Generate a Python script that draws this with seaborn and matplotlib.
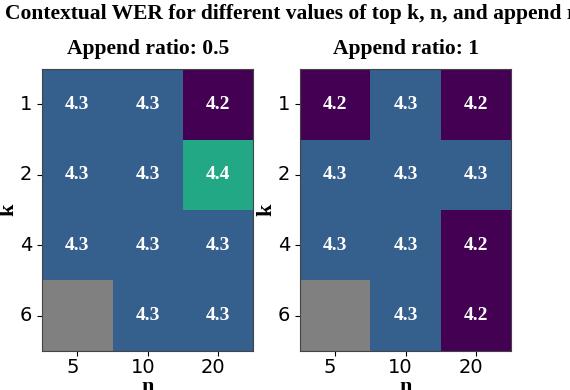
import matplotlib
matplotlib.use("Agg")
import matplotlib.pyplot as plt
import matplotlib.transforms as mtransforms
import numpy as np
import pandas as pd
import seaborn as sns

top_k = [1, 2, 4, 6]
n_values = [5, 10, 20]
append_ratios = ["0.5", "1"]

wer_ratio_05 = [
    [4.3, 4.3, 4.2],
    [4.3, 4.3, 4.4],
    [4.3, 4.3, 4.3],
    [np.nan, 4.3, 4.3],
]
wer_ratio_1 = [
    [4.2, 4.3, 4.2],
    [4.3, 4.3, 4.3],
    [4.3, 4.3, 4.2],
    [np.nan, 4.3, 4.2],
]

SERIF = "Liberation Serif"


def main():
    fig, axes = plt.subplots(1, 2, figsize=(5.7, 3.9), dpi=100)
    fig.subplots_adjust(left=0.074, right=0.897, top=0.823, bottom=0.10, wspace=0.22)

    # x tick labels sit a little left of their ticks in the original
    shift = mtransforms.ScaledTranslation(-5 / 100, 0, fig.dpi_scale_trans)

    for ax, ratio, values in zip(axes, append_ratios, [wer_ratio_05, wer_ratio_1]):
        df = pd.DataFrame(values, index=top_k, columns=n_values)
        sns.heatmap(df, ax=ax, cmap="viridis", vmin=4.2, vmax=4.2 + 0.1 / 0.3, cbar=False,
                    annot=True, fmt=".1f",
                    annot_kws={"family": SERIF, "weight": "bold", "size": 14, "color": "white"})
        ax.set_facecolor("gray")
        ax.set_aspect("equal")
        for spine in ax.spines.values():
            spine.set_visible(True)
            spine.set_color("#444444")
        ax.tick_params(labelsize=14, length=3.5)
        ax.tick_params(axis="x", pad=1.5)
        ax.set_yticklabels(top_k, rotation=0)
        ax.set_xticklabels(n_values, rotation=0)
        for label in ax.get_xticklabels():
            label.set_transform(label.get_transform() + shift)
        ax.set_title(f"Append ratio: {ratio}", family=SERIF, weight="bold", size=15.5, pad=11)
        ax.set_xlabel("n", family=SERIF, weight="bold", size=16, labelpad=0)
        ax.set_ylabel("k", family=SERIF, weight="bold", size=16, labelpad=1)

    fig.text(0.008, 0.965, "Contextual WER for different values of top k, n, and append ratio",
             family=SERIF, weight="bold", size=15.5, ha="left", va="center")

    fig.savefig("out.png", dpi=100)


if __name__ == "__main__":
    main()
